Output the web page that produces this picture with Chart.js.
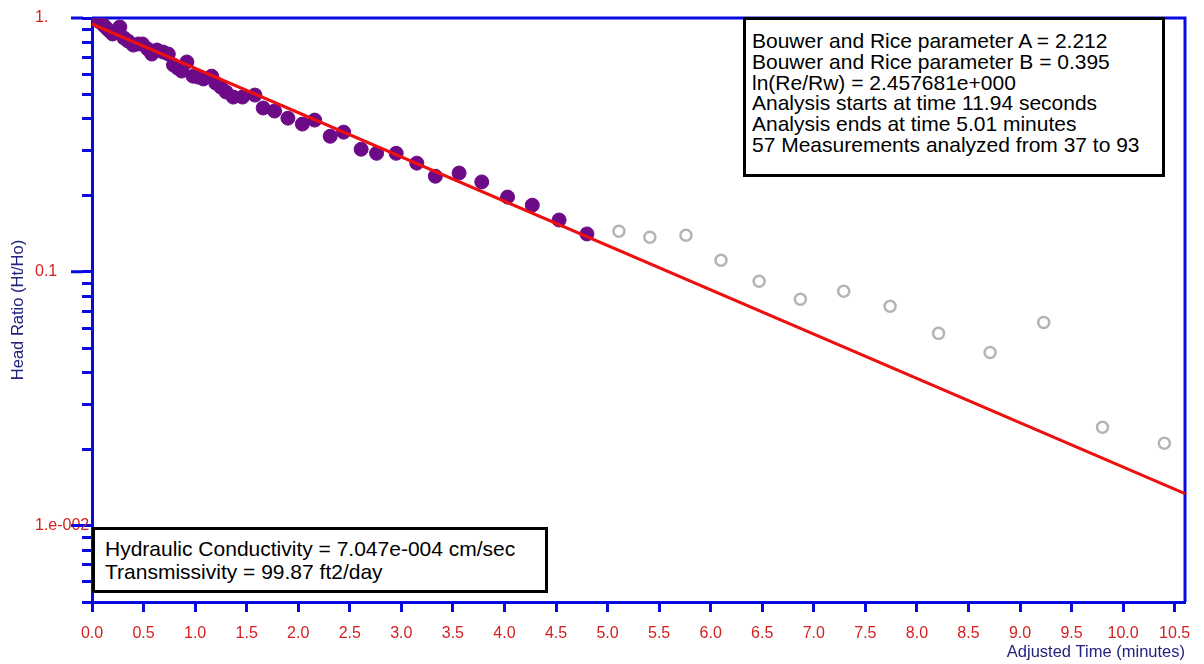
<!DOCTYPE html>
<html>
<head>
<meta charset="utf-8">
<script src="https://cdn.jsdelivr.net/npm/chart.js@4.4.1/dist/chart.umd.min.js"></script>
<style>
  body { margin: 0; background: #fff; }
  #wrap { position: relative; width: 1204px; height: 664px; }
  .box {
    position: absolute; box-sizing: border-box; border: 3px solid #000; background: #fff;
    font: 21px "Liberation Sans", Arial, sans-serif; color: #000; white-space: nowrap;
  }
  #params { left: 743px; top: 17px; width: 422px; height: 160px; line-height: 20.8px; padding: 11px 0 0 6px; }
  #results { left: 92px; top: 527px; width: 456px; height: 66px; line-height: 23px; padding: 7px 0 0 10px; }
</style>
</head>
<body>
<div id="wrap">
  <canvas id="slugChart" width="1204" height="664"></canvas>
  <div class="box" id="params">
    Bouwer and Rice parameter A = 2.212<br>
    Bouwer and Rice parameter B = 0.395<br>
    ln(Re/Rw) = 2.457681e+000<br>
    Analysis starts at time 11.94 seconds<br>
    Analysis ends at time 5.01 minutes<br>
    57 Measurements analyzed from 37 to 93
  </div>
  <div class="box" id="results">
    Hydraulic Conductivity = 7.047e-004 cm/sec<br>
    Transmissivity = 99.87 ft2/day
  </div>
</div>
<script>
// measurements used in the fit (minutes, Ht/Ho)
const usedTime = [0, 0.03, 0.06, 0.09, 0.12, 0.15, 0.17, 0.20, 0.27, 0.31, 0.35, 0.40, 0.45, 0.49,
  0.54, 0.58, 0.63, 0.69, 0.74, 0.79, 0.83, 0.87, 0.92, 0.98, 1.03, 1.08, 1.16, 1.20, 1.25, 1.30,
  1.37, 1.46, 1.58, 1.66, 1.77, 1.90, 2.04, 2.16, 2.31, 2.44, 2.61, 2.76, 2.95, 3.15, 3.33, 3.56,
  3.78, 4.03, 4.27, 4.53, 4.80];
const usedRatio = [1.0, 0.991, 0.973, 0.956, 0.930, 0.905, 0.889, 0.865, 0.922, 0.834, 0.811, 0.782,
  0.790, 0.790, 0.755, 0.721, 0.748, 0.734, 0.721, 0.653, 0.635, 0.618, 0.671, 0.590, 0.585, 0.575,
  0.590, 0.554, 0.534, 0.511, 0.488, 0.488, 0.497, 0.442, 0.430, 0.403, 0.382, 0.396, 0.342, 0.355,
  0.304, 0.293, 0.293, 0.268, 0.238, 0.245, 0.226, 0.197, 0.183, 0.160, 0.141];

// measurements after the analysis window
const lateTime = [5.11, 5.41, 5.76, 6.10, 6.47, 6.87, 7.29, 7.74, 8.21, 8.71, 9.23, 9.80, 10.40];
const lateRatio = [0.1445, 0.1368, 0.1393, 0.111, 0.0917, 0.078, 0.0838, 0.0731, 0.0572, 0.0481,
  0.0632, 0.0244, 0.0211];

// fitted straight line
const fitTime = [0, 10.6];
const fitRatio = [0.947, 0.01337];

const xTicks = [0, 0.5, 1, 1.5, 2, 2.5, 3, 3.5, 4, 4.5, 5, 5.5, 6, 6.5, 7, 7.5, 8, 8.5, 9, 9.5, 10, 10.5];
const yTicks = [0.005, 0.006, 0.007, 0.008, 0.009, 0.01, 0.02, 0.03, 0.04, 0.05, 0.06, 0.07, 0.08, 0.09,
  0.1, 0.2, 0.3, 0.4, 0.5, 0.6, 0.7, 0.8, 0.9, 1];
const yTickLabels = ['', '', '', '', '', '1.e-002', '', '', '', '', '', '', '', '',
  '0.1', '', '', '', '', '', '', '', '', '1.'];
const yMajor = [0.01, 0.1, 1];

const axisBlue = '#0a0ae0';
const labelRed = '#d42020';
const titleNavy = '#23237e';

const toXY = (xs, ys) => xs.map((x, i) => ({ x: x, y: ys[i] }));

Chart.defaults.font.family = '"Liberation Sans", Arial, sans-serif';

// frame on top/right, longer decade ticks, rotated y title
const framePlugin = {
  id: 'frame',
  beforeDatasetsDraw(chart) {
    const { ctx, chartArea: a, scales } = chart;
    ctx.save();
    ctx.strokeStyle = axisBlue;
    ctx.lineWidth = 3;
    ctx.beginPath();
    ctx.moveTo(a.left, a.top);
    ctx.lineTo(a.right, a.top);
    ctx.lineTo(a.right, a.bottom);
    yMajor.forEach(v => {
      const py = scales.y.getPixelForValue(v);
      ctx.moveTo(a.left - 21, py);
      ctx.lineTo(a.left - 9, py);
    });
    ctx.stroke();
    ctx.translate(18, (a.top + a.bottom) / 2);
    ctx.rotate(-Math.PI / 2);
    ctx.fillStyle = titleNavy;
    ctx.font = '16.5px "Liberation Sans", Arial, sans-serif';
    ctx.textAlign = 'center';
    ctx.textBaseline = 'middle';
    ctx.fillText('Head Ratio (Ht/Ho)', 0, 0);
    ctx.restore();
  }
};

new Chart(document.getElementById('slugChart').getContext('2d'), {
  type: 'scatter',
  data: {
    datasets: [
      {
        label: 'Fit',
        data: toXY(fitTime, fitRatio),
        showLine: true,
        borderColor: '#ee1010',
        borderWidth: 3,
        pointRadius: 0,
        fill: false
      },
      {
        label: 'Analyzed',
        data: toXY(usedTime, usedRatio),
        pointRadius: 7,
        pointBackgroundColor: '#6c0a88',
        pointBorderColor: '#6c0a88',
        pointBorderWidth: 1
      },
      {
        label: 'Not analyzed',
        data: toXY(lateTime, lateRatio),
        pointRadius: 5.5,
        pointBackgroundColor: '#ffffff',
        pointBorderColor: '#b4b4b4',
        pointBorderWidth: 2.5
      }
    ]
  },
  options: {
    responsive: false,
    animation: false,
    layout: { padding: { left: 35, top: 18, right: 19, bottom: 0 } },
    plugins: { legend: { display: false }, tooltip: { enabled: false } },
    scales: {
      x: {
        type: 'linear',
        min: 0,
        max: 10.6,
        afterBuildTicks: scale => { scale.ticks = xTicks.map(v => ({ value: v })); },
        afterFit: scale => { scale.height = 62; },
        border: { color: axisBlue, width: 3 },
        grid: { drawOnChartArea: false, tickLength: 10, tickWidth: 3, tickColor: axisBlue },
        ticks: {
          autoSkip: false,
          maxRotation: 0,
          padding: 12,
          color: labelRed,
          font: { size: 16 },
          callback: v => v.toFixed(1)
        },
        title: {
          display: true,
          text: 'Adjusted Time (minutes)',
          align: 'end',
          color: titleNavy,
          font: { size: 16.5 },
          padding: { top: 0, bottom: 2 }
        }
      },
      y: {
        type: 'logarithmic',
        min: 0.005,
        max: 1,
        afterBuildTicks: scale => { scale.ticks = yTicks.map(v => ({ value: v })); },
        afterFit: scale => { scale.width = 57; },
        border: { color: axisBlue, width: 3 },
        grid: { drawOnChartArea: false, tickLength: 10, tickWidth: 3, tickColor: axisBlue },
        ticks: {
          autoSkip: false,
          crossAlign: 'far',
          color: labelRed,
          font: { size: 16 },
          callback: (v, i) => yTickLabels[i]
        }
      }
    }
  },
  plugins: [framePlugin]
});
</script>
</body>
</html>
